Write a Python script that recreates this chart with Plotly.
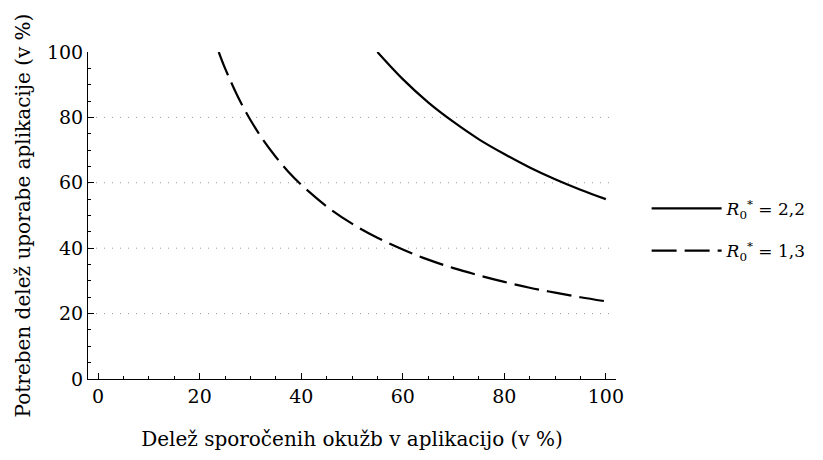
import plotly.graph_objects as go

# Data
x_r22 = [55, 60, 65, 70, 75, 80, 85, 90, 95, 100]
y_r22 = [100, 91.7, 84.6, 78.6, 73.3, 68.8, 64.7, 61.1, 57.9, 55.0]

x_r13 = [23.75, 25, 27.5, 30, 32.5, 35, 37.5, 40, 45, 50, 55, 60, 65, 70, 75, 80, 85, 90, 95, 100]
y_r13 = [100, 95, 86.4, 79.2, 73.1, 67.9, 63.3, 59.4, 52.8, 47.5, 43.2, 39.6, 36.5, 33.9, 31.7, 29.7, 27.9, 26.4, 25.0, 23.75]

names = ["<i>R</i><sub>0</sub><sup>*</sup> = 2,2", "<i>R</i><sub>0</sub><sup>*</sup> = 1,3"]
tick_vals = [0, 20, 40, 60, 80, 100]
grid_y = [20, 40, 60, 80]

FONT = "DejaVu Serif"
FS = 20

fig = go.Figure()
fig.add_trace(go.Scatter(x=x_r22, y=y_r22, mode="lines", name=names[0], legendgroup="a",
                         line=dict(color="black", width=2.2, shape="spline")))
fig.add_trace(go.Scatter(x=x_r13, y=y_r13, mode="lines", name=names[1], legendgroup="b",
                         line=dict(color="black", width=2.2, shape="spline", dash="25px,8px")))

for gy in grid_y:
    fig.add_shape(type="line", xref="paper", x0=0, x1=1, yref="y", y0=gy, y1=gy,
                  line=dict(color="#999999", width=1, dash="1px,7px"), layer="below")

axis_common = dict(
    showline=True, linecolor="black", linewidth=1,
    ticks="inside", ticklen=6, tickwidth=1, tickcolor="black",
    tickvals=tick_vals, showgrid=False, zeroline=False,
    minor=dict(ticks="inside", ticklen=3, dtick=5, tickcolor="black", showgrid=False),
    tickfont=dict(family=FONT, size=19, color="black"),
)

fig.update_layout(
    width=823, height=460,
    margin=dict(l=80, r=215, t=44, b=89),
    plot_bgcolor="white", paper_bgcolor="white",
    font=dict(family=FONT, size=FS, color="black"),
    xaxis=dict(range=[-2, 102],
               title=dict(text="Delež sporočenih okužb v aplikacijo (v %)", standoff=26,
                          font=dict(family=FONT, size=FS)),
               **axis_common),
    yaxis=dict(range=[0, 100],
               title=dict(text="Potreben delež uporabe aplikacije (v %)", standoff=10,
                          font=dict(family=FONT, size=FS)),
               **axis_common),
    legend=dict(x=1.058, y=0.456, xanchor="left", yanchor="middle",
                font=dict(family=FONT, size=17), bgcolor="rgba(0,0,0,0)",
                tracegroupgap=17, itemwidth=70),
    showlegend=True,
)

fig.write_html("out.html")
